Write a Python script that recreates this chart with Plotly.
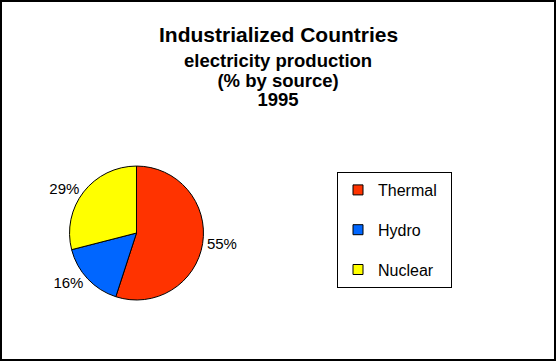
import plotly.graph_objects as go

sources = ["Thermal", "Hydro", "Nuclear"]
shares = [55, 16, 29]
colors = ["#FF3300", "#0066FF", "#FFFF00"]
title_lines = ["Industrialized Countries", "electricity production", "(% by source)", "1995"]

FONT = "Arial, Liberation Sans, sans-serif"

fig = go.Figure()
fig.add_trace(go.Pie(
    labels=sources, values=shares, sort=False, direction="clockwise", rotation=0,
    marker=dict(colors=colors, line=dict(color="black", width=1)),
    texttemplate="%{percent:.0%}", textposition="outside",
    outsidetextfont=dict(family=FONT, size=15, color="black"),
    domain=dict(x=[0.125, 0.366], y=[0.169, 0.540]),
    showlegend=False, hoverinfo="label+percent",
))

PAD = "\u00a0" * 2
for name, col in zip(sources, colors):
    fig.add_trace(go.Scatter(
        x=[None], y=[None], mode="markers", name=name + PAD, legendgroup=name,
        marker=dict(symbol="square", size=10, color=col, line=dict(color="black", width=1)),
    ))

sub_text = "<br>".join(
    f"<span style='font-size:18.5px'><b>{t}</b></span>" for t in title_lines[1:]
)
annotations = [
    dict(text=f"<b>{title_lines[0]}</b>", x=0.5, y=1 - 35 / 361, xref="paper", yref="paper",
         xanchor="center", yanchor="middle", showarrow=False,
         font=dict(family=FONT, size=21, color="black")),
    dict(text=sub_text, x=0.5, y=1 - 80 / 361, xref="paper", yref="paper",
         xanchor="center", yanchor="middle", showarrow=False,
         font=dict(family=FONT, size=15, color="black")),
]

fig.update_layout(
    width=556, height=361,
    margin=dict(l=0, r=0, t=0, b=0),
    paper_bgcolor="white", plot_bgcolor="white",
    xaxis=dict(visible=False), yaxis=dict(visible=False),
    font=dict(family=FONT, size=16, color="black"),
    annotations=annotations,
    legend=dict(
        x=337 / 556, y=1 - 172 / 361, xanchor="left", yanchor="top",
        bordercolor="black", borderwidth=1, bgcolor="white",
        traceorder="grouped", tracegroupgap=16,
        font=dict(family=FONT, size=16, color="black"),
    ),
    shapes=[dict(type="rect", xref="paper", yref="paper", x0=0, x1=1, y0=0, y1=1,
                 line=dict(color="black", width=4), fillcolor="rgba(0,0,0,0)")],
)

fig.write_html(
    "out.html",
    config={"displayModeBar": False},
    post_script="document.body.style.margin='0';document.body.style.overflow='hidden';",
)
